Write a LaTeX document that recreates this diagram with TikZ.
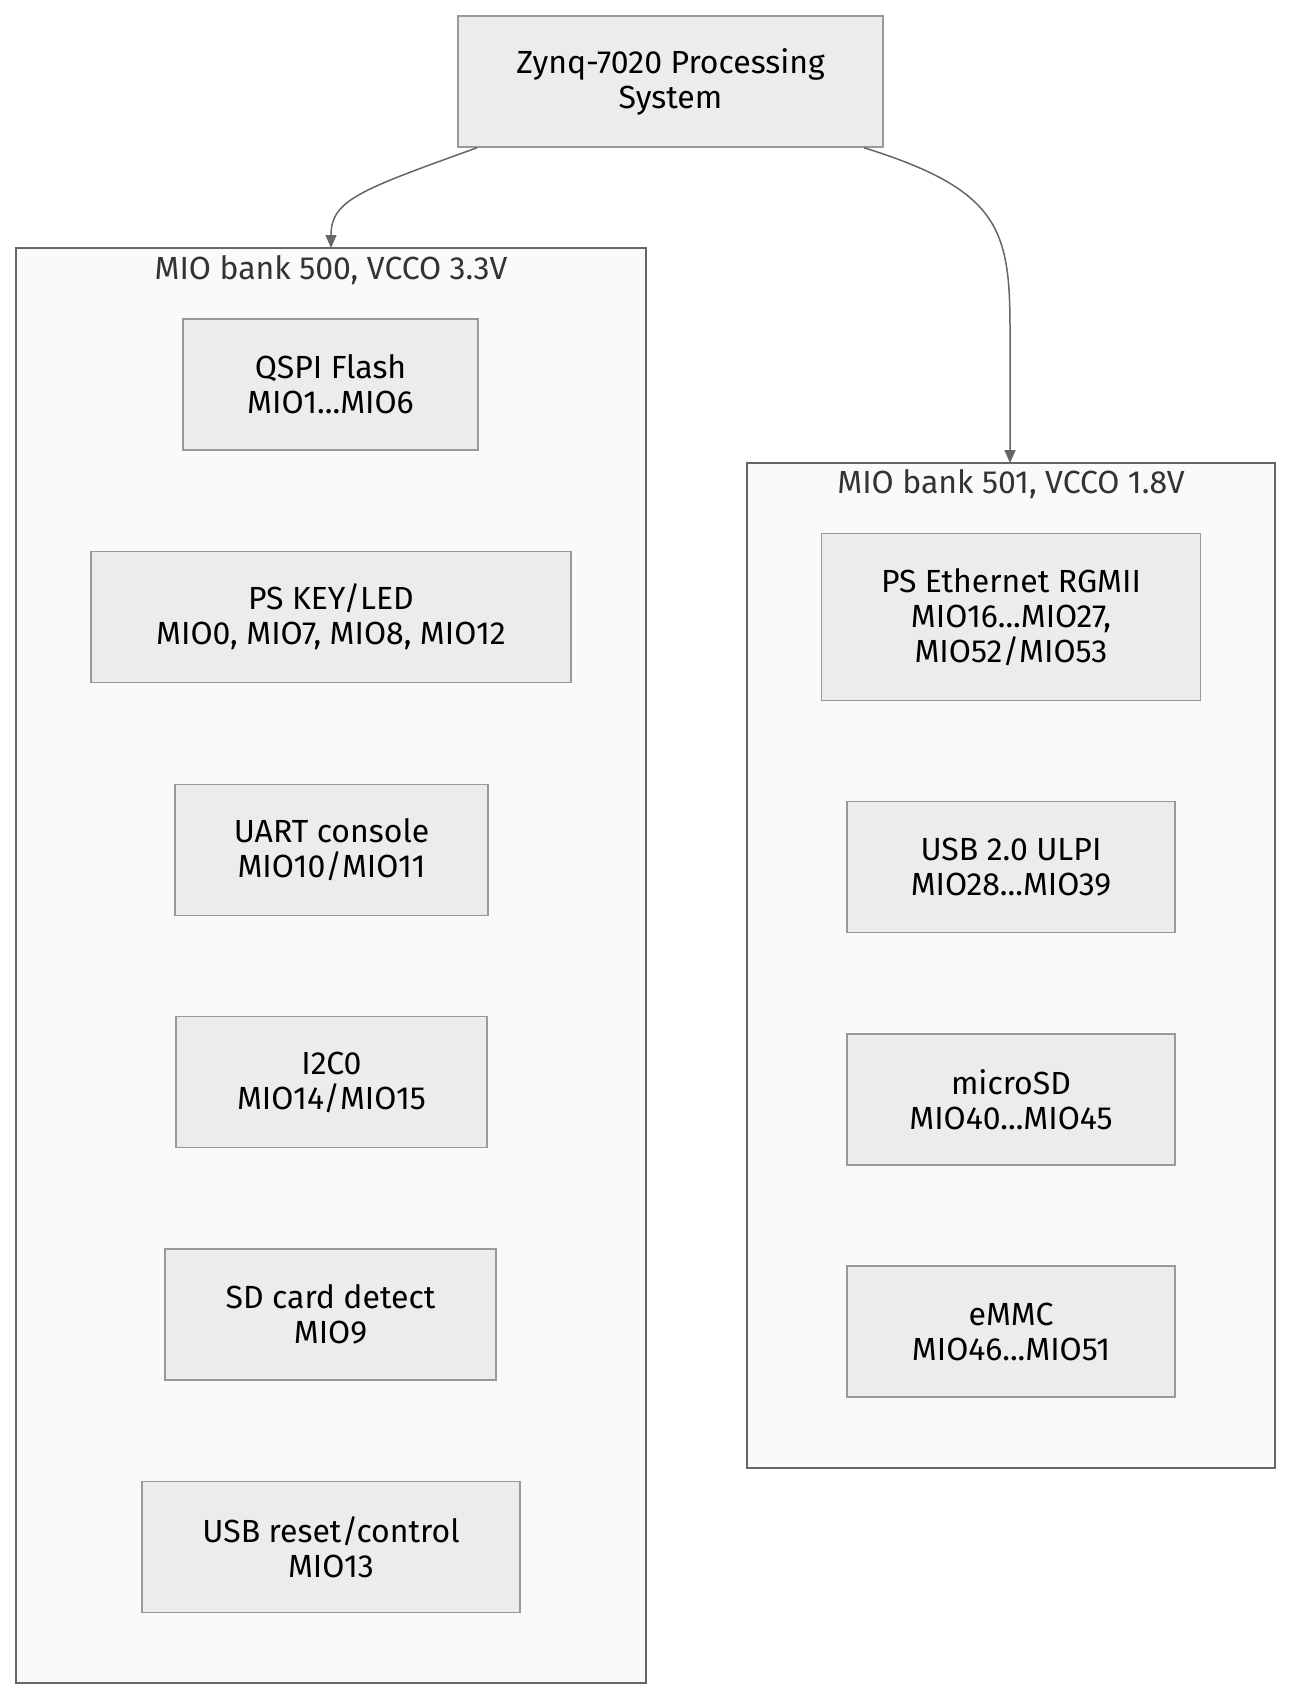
\documentclass[tikz,border=0pt]{standalone}
\usepackage{fontspec}
\setmainfont{Fira Sans}
\usetikzlibrary{arrows.meta,calc}
\definecolor{nodefill}{HTML}{ECECEC}
\definecolor{nodestroke}{HTML}{999999}
\definecolor{clfill}{HTML}{FAFAFA}
\definecolor{clstroke}{HTML}{666666}
\definecolor{edgecol}{HTML}{666666}
\definecolor{cltext}{HTML}{333333}
\tikzset{
  box/.style={draw=nodestroke, fill=nodefill, line width=1.5pt, align=center, inner sep=0pt, font=\fontsize{32}{35}\selectfont},
  cluster/.style={draw=clstroke, fill=clfill, line width=1.5pt},
  cllabel/.style={text=cltext, font=\fontsize{32}{35}\selectfont, inner sep=0pt},
  edge/.style={draw=edgecol, line width=1.5pt, -{Triangle[length=13pt,width=11pt]}}
}
\begin{document}
\begin{tikzpicture}[x=1pt,y=-1pt]
\useasboundingbox[fill=white] (0,0) rectangle (1292,1700);
% clusters
\draw[cluster] (16,248) rectangle (646,1683);
\node[cllabel] (cl1) at (331,270) {MIO bank 500, VCCO 3.3V};
\draw[cluster] (747,463) rectangle (1275,1468);
\node[cllabel] (cl2) at (1011,484) {MIO bank 501, VCCO 1.8V};
\coordinate (cl1top) at (331,248);
\coordinate (cl2top) at (1010,463);
% top node
\node[box, minimum width=425pt, minimum height=131pt] (ps) at (670.5,81.5) {Zynq-7020 Processing\\System};
% left nodes
\node[box, minimum width=295pt, minimum height=131pt] (qspi) at (330.5,384.5) {QSPI Flash\\MIO1...MIO6};
\node[box, minimum width=480pt, minimum height=131pt] (key) at (331,617) {PS KEY/LED\\MIO0, MIO7, MIO8, MIO12};
\node[box, minimum width=313pt, minimum height=131pt] (uart) at (331.5,850) {UART console\\MIO10/MIO11};
\node[box, minimum width=311pt, minimum height=131pt] (i2c) at (331.5,1082) {I2C0\\MIO14/MIO15};
\node[box, minimum width=331pt, minimum height=131pt] (sd) at (330.5,1314.5) {SD card detect\\MIO9};
\node[box, minimum width=378pt, minimum height=131pt] (usbr) at (331,1547) {USB reset/control\\MIO13};
% right nodes
\node[box, minimum width=379pt, minimum height=167pt] (eth) at (1011,617) {PS Ethernet RGMII\\MIO16...MIO27,\\MIO52/MIO53};
\node[box, minimum width=328pt, minimum height=131pt] (usb) at (1011,867) {USB 2.0 ULPI\\MIO28...MIO39};
\node[box, minimum width=328pt, minimum height=131pt] (msd) at (1011,1099.5) {microSD\\MIO40...MIO45};
\node[box, minimum width=328pt, minimum height=131pt] (emmc) at (1011,1331.5) {eMMC\\MIO46...MIO51};
% edges
\draw[edge] ($(ps.south)+(-193.5,0)$) .. controls (360,190) and (331,200) .. (cl1top);
\draw[edge] ($(ps.south)+(193.5,0)$) .. controls (1000,190) and (1010,230) .. (1010,330) -- (cl2top);
\end{tikzpicture}
\end{document}
